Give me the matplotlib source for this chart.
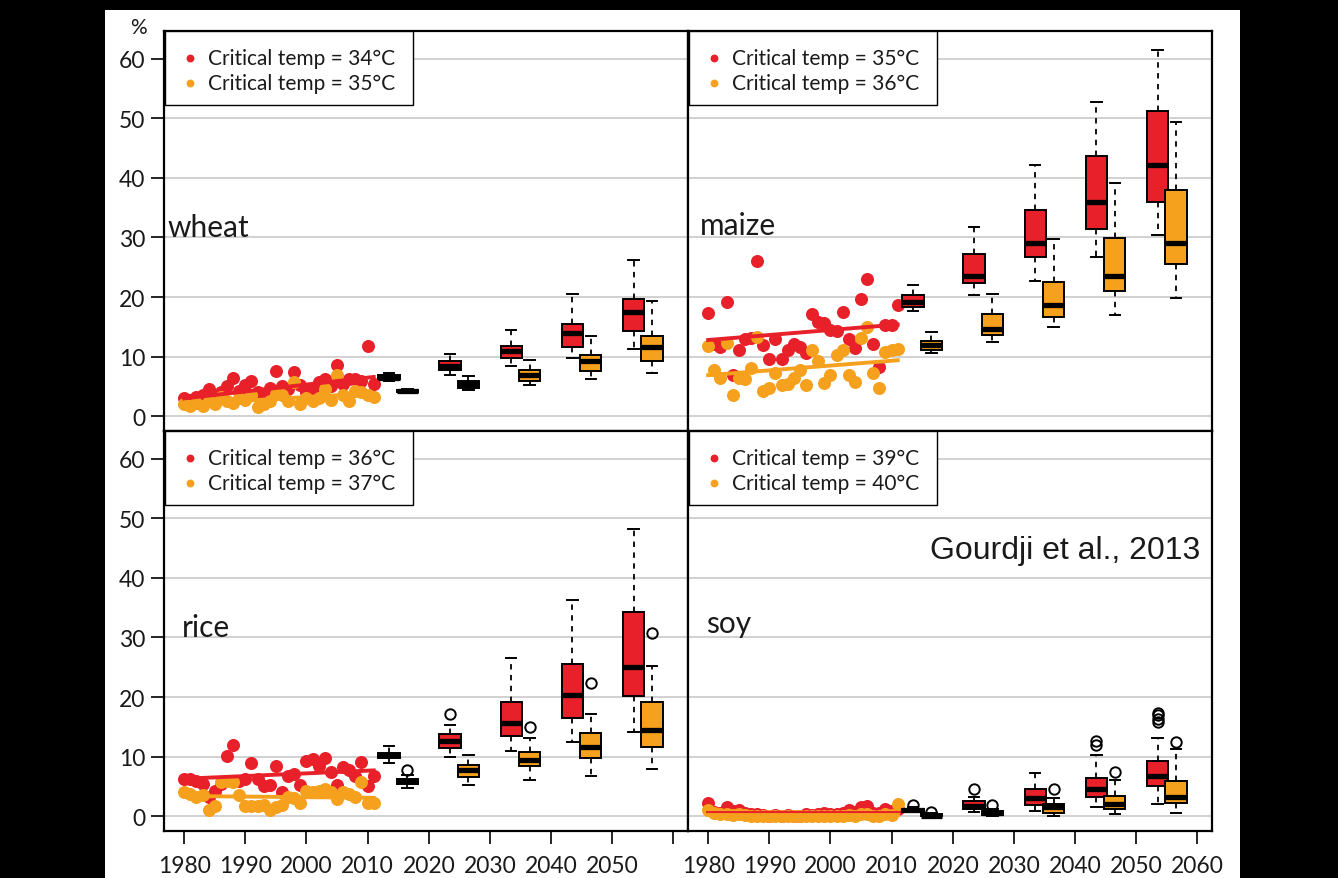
import numpy as np
import matplotlib.pyplot as plt
from matplotlib.patches import Rectangle

plt.rcParams['font.family'] = ['Lato', 'DejaVu Sans']

W, H = 1338, 879

years = np.arange(1980, 2012)
red_pos = [2013.5, 2023.5, 2033.5, 2043.5, 2053.5]
orange_pos = [2016.5, 2026.5, 2036.5, 2046.5, 2056.5]
point_colors = ['#E8202A', '#F6A11E']

# ---- wheat ----
wheat_red = [3.0, 2.8, 3.2, 3.5, 4.5, 3.6, 4.0, 5.0, 6.5, 4.2, 5.3, 6.0, 4.0, 3.5, 4.8, 7.6,
             5.0, 4.5, 7.4, 5.2, 4.0, 4.5, 5.8, 6.3, 5.0, 8.6, 5.5, 6.3, 6.2, 6.0, 11.8, 5.5]
wheat_orange = [2.0, 1.8, 2.2, 1.8, 2.5, 2.0, 3.2, 2.5, 2.2, 3.0, 2.8, 3.6, 1.5, 2.0, 2.5, 3.8,
                3.5, 2.5, 5.8, 2.0, 3.0, 2.5, 3.0, 4.5, 2.8, 7.0, 3.5, 2.5, 4.3, 4.0, 3.5, 3.2]
wheat_trend_red = [3.0, 6.6]
wheat_trend_orange = [2.0, 3.9]
# whisker low, q1, median, q3, whisker high
wheat_red_boxes = [[6.0, 6.3, 6.5, 6.9, 7.3], [6.9, 7.8, 8.5, 9.2, 10.4], [8.5, 9.7, 10.9, 11.85, 14.4],
                   [9.8, 11.6, 14.0, 15.5, 20.6], [11.3, 14.3, 17.5, 19.7, 26.3]]
wheat_orange_boxes = [[4.0, 4.1, 4.2, 4.4, 4.5], [4.4, 4.8, 5.4, 5.9, 6.7], [5.2, 6.0, 7.0, 7.8, 9.5],
                      [6.3, 7.6, 9.2, 10.2, 13.4], [7.3, 9.2, 11.7, 13.4, 19.3]]
wheat_red_fliers = [[], [], [], [], []]
wheat_orange_fliers = [[], [], [], [], []]

# ---- maize ----
maize_red = [17.3, 12.2, 11.7, 19.1, 7.0, 11.2, 13.0, 13.2, 26.0, 11.9, 9.6, 12.9, 9.6, 11.1, 12.2, 11.7,
             10.6, 17.2, 15.8, 15.6, 14.4, 14.3, 17.5, 12.9, 11.4, 19.6, 23.1, 12.2, 8.3, 15.4, 15.4, 18.7]
maize_orange = [11.8, 7.8, 6.5, 12.3, 3.6, 6.4, 6.2, 8.1, 13.3, 4.2, 4.7, 7.3, 5.2, 5.4, 6.5, 7.8,
                5.2, 11.1, 9.3, 5.6, 6.9, 10.3, 11.1, 6.9, 5.8, 13.1, 15.0, 7.2, 4.8, 10.8, 11.1, 11.3]
maize_trend_red = [12.8, 15.4]
maize_trend_orange = [6.9, 9.4]
maize_red_boxes = [[17.7, 18.3, 19.2, 20.4, 22.1], [20.3, 22.3, 23.5, 27.2, 31.7], [22.7, 26.8, 29.1, 34.6, 42.2],
                   [26.7, 31.4, 35.9, 43.7, 52.7], [30.4, 36.0, 42.2, 51.2, 61.5]]
maize_orange_boxes = [[10.7, 11.2, 11.9, 12.6, 14.1], [12.4, 13.6, 14.7, 17.2, 20.6], [15.0, 16.7, 18.7, 22.6, 29.8],
                      [17.0, 21.1, 23.5, 29.9, 39.1], [19.8, 25.5, 29.1, 37.9, 49.4]]
maize_red_fliers = [[], [], [], [], []]
maize_orange_fliers = [[], [], [], [], []]

# ---- rice ----
rice_red = [6.3, 6.3, 6.0, 5.4, 3.2, 4.3, 5.4, 10.1, 12.0, 6.0, 6.3, 8.9, 6.3, 5.0, 5.3, 8.4,
            4.0, 6.8, 7.1, 5.3, 9.3, 9.6, 8.5, 9.7, 7.5, 5.3, 8.2, 7.7, 6.8, 9.1, 5.1, 6.8]
rice_orange = [4.0, 3.7, 3.2, 3.5, 1.0, 1.7, 5.7, 6.0, 5.7, 3.5, 1.7, 1.7, 1.8, 1.9, 1.1, 1.5,
               1.9, 3.2, 3.0, 2.3, 4.3, 4.0, 4.3, 4.6, 4.0, 2.9, 4.0, 3.7, 3.2, 5.7, 2.3, 2.3]
rice_trend_red = [6.3, 7.7]
rice_trend_orange = [3.4, 3.1]
rice_red_boxes = [[8.9, 9.7, 10.2, 10.6, 11.8], [9.9, 11.5, 12.6, 13.8, 15.4], [11.0, 13.5, 15.6, 19.2, 26.5],
                  [12.4, 16.5, 20.3, 25.5, 36.3], [14.1, 20.2, 25.0, 34.3, 48.2]]
rice_orange_boxes = [[4.7, 5.5, 6.0, 6.3, 6.9], [5.3, 6.6, 7.7, 8.6, 10.3], [6.1, 8.5, 9.5, 10.8, 13.1],
                     [6.8, 9.8, 11.7, 14.0, 17.2], [7.9, 11.6, 14.4, 19.1, 25.2]]
rice_red_fliers = [[], [17.2], [], [], []]
rice_orange_fliers = [[7.8], [], [14.9], [22.4], [30.8]]

# ---- soy ----
soy_red = [2.3, 0.8, 0.6, 1.5, 0.9, 1.0, 0.6, 0.3, 0.4, 0.2, 0.1, 0.2, 0.1, 0.2, 0.1, 0.1,
           0.3, 0.2, 0.4, 0.5, 0.4, 0.3, 0.6, 1.0, 0.8, 1.5, 1.7, 0.6, 0.5, 1.2, 0.9, 1.3]
soy_orange = [1.0, 0.5, 0.3, 0.4, 0.2, 0.3, 0.2, 0.1, 0.1, 0.0, 0.0, 0.1, 0.0, 0.0, 0.0, 0.0,
              0.1, 0.0, 0.1, 0.1, 0.1, 0.0, 0.1, 0.2, 0.1, 0.3, 0.4, 0.1, 0.1, 0.3, 0.2, 2.0]
soy_trend_red = [0.5, 0.5]
soy_trend_orange = [0.15, 0.15]
soy_red_boxes = [[0.7, 0.8, 1.1, 1.3, 1.5], [0.8, 1.2, 1.8, 2.5, 3.2], [0.9, 1.9, 3.0, 4.5, 7.3],
                 [1.5, 3.3, 4.6, 6.5, 10.3], [2.1, 5.0, 6.7, 9.3, 13.2]]
soy_orange_boxes = [[0.0, 0.0, 0.1, 0.35, 0.5], [0.1, 0.2, 0.6, 0.9, 1.2], [0.1, 0.6, 1.5, 2.0, 3.0],
                    [0.3, 1.2, 2.1, 3.4, 6.1], [0.5, 2.2, 3.2, 6.0, 11.3]]
soy_red_fliers = [[1.9], [4.5], [], [12.0, 12.7], [15.9, 16.4, 17.0, 17.4]]
soy_orange_fliers = [[0.8], [1.9], [4.5], [7.5], [12.4]]

panels = [
    ('wheat', ['Critical temp = 34°C', 'Critical temp = 35°C'], wheat_red, wheat_orange,
     wheat_trend_red, wheat_trend_orange, wheat_red_boxes, wheat_orange_boxes,
     wheat_red_fliers, wheat_orange_fliers),
    ('maize', ['Critical temp = 35°C', 'Critical temp = 36°C'], maize_red, maize_orange,
     maize_trend_red, maize_trend_orange, maize_red_boxes, maize_orange_boxes,
     maize_red_fliers, maize_orange_fliers),
    ('rice', ['Critical temp = 36°C', 'Critical temp = 37°C'], rice_red, rice_orange,
     rice_trend_red, rice_trend_orange, rice_red_boxes, rice_orange_boxes,
     rice_red_fliers, rice_orange_fliers),
    ('soy', ['Critical temp = 39°C', 'Critical temp = 40°C'], soy_red, soy_orange,
     soy_trend_red, soy_trend_orange, soy_red_boxes, soy_orange_boxes,
     soy_red_fliers, soy_orange_fliers),
]
# crop-name placement (axes fraction)
name_xy = {'wheat': (0.006, 0.51), 'maize': (0.022, 0.515), 'rice': (0.034, 0.51), 'soy': (0.034, 0.52)}

fig = plt.figure(figsize=(W / 100, H / 100), dpi=100, facecolor='black')
fig.patches.append(Rectangle((105 / W, 0), (1240 - 105) / W, 868 / H, transform=fig.transFigure,
                             facecolor='white', edgecolor='none', zorder=-10))

ax_w, ax_h = 524 / W, 400 / H
lefts = [164 / W, 688 / W]
bottoms = [1 - 432 / H, 1 - 832 / H]


def box_stats(rows, fliers):
    return [dict(whislo=r[0], q1=r[1], med=r[2], q3=r[3], whishi=r[4], fliers=f)
            for r, f in zip(rows, fliers)]


for i, (name, keys, r_pts, o_pts, r_tr, o_tr, r_box, o_box, r_fl, o_fl) in enumerate(panels):
    row, col = divmod(i, 2)
    ax = fig.add_axes([lefts[col], bottoms[row], ax_w, ax_h])
    ax.set_xlim(1976.7, 2062.4)
    ax.set_ylim(-2.47, 64.65)
    ax.set_yticks(range(0, 61, 10))
    ax.set_xticks(range(1980, 2061, 10))
    ax.grid(axis='y', color='#c9c9c9', lw=1.2)
    ax.set_axisbelow(True)
    for s in ax.spines.values():
        s.set_linewidth(1.6)

    ax.scatter(years, r_pts, s=88, color=point_colors[0], lw=0, zorder=2)
    ax.scatter(years, o_pts, s=88, color=point_colors[1], lw=0, zorder=2)
    ax.plot([years[0], years[-1]], r_tr, color=point_colors[0], lw=2.8, zorder=3)
    ax.plot([years[0], years[-1]], o_tr, color=point_colors[1], lw=2.8, zorder=3)

    for stats, pos, colr in [(box_stats(r_box, r_fl), red_pos, point_colors[0]),
                             (box_stats(o_box, o_fl), orange_pos, point_colors[1])]:
        ax.bxp(stats, positions=pos, widths=3.5, capwidths=1.7, patch_artist=True, manage_ticks=False,
               boxprops=dict(facecolor=colr, edgecolor='black', lw=1.4),
               medianprops=dict(color='black', lw=3.8, solid_capstyle='butt'),
               whiskerprops=dict(color='black', lw=1.3, linestyle=(0, (3, 3))),
               capprops=dict(color='black', lw=1.4),
               flierprops=dict(marker='o', markerfacecolor='none', markeredgecolor='black',
                               markeredgewidth=1.4, markersize=7.5),
               zorder=4)

    # key box in the upper-left corner
    ax.add_patch(Rectangle((0.002, 0.815), 0.473, 0.185, transform=ax.transAxes, facecolor='white',
                           edgecolor='black', lw=1.0, zorder=5))
    for k, (lab, c) in enumerate(zip(keys, point_colors)):
        yk = 0.9325 - k * 0.0625
        ax.scatter([0.0496], [yk], s=32, color=c, lw=0, transform=ax.transAxes, zorder=6)
        ax.text(0.084, yk, lab, transform=ax.transAxes, ha='left', va='center', fontsize=15,
                color='#1a1a1a', zorder=6)

    nx, ny = name_xy[name]
    ax.text(nx, ny, name, transform=ax.transAxes, ha='left', va='center', fontsize=21.5, color='#1a1a1a')

    ax.tick_params(axis='both', direction='out', length=9.5, width=1.2, labelsize=16.5,
                   labelcolor='#1a1a1a')
    ax.tick_params(axis='y', pad=4)
    ax.tick_params(axis='x', pad=8)
    if col == 1:
        ax.tick_params(axis='y', left=False, labelleft=False)
    if row == 0:
        ax.tick_params(axis='x', bottom=False, labelbottom=False)
    elif col == 0:
        ax.set_xticklabels([str(y) if y < 2060 else '' for y in range(1980, 2061, 10)])

    if name == 'soy':
        ax.text(0.977, 0.7025, 'Gourdji et al., 2013', transform=ax.transAxes, ha='right', va='center',
                fontsize=23, family='Liberation Sans', color='#1a1a1a')

fig.text(138 / W, 1 - 28 / H, '%', ha='center', va='center', fontsize=15, color='#1a1a1a')

fig.savefig('out.png', dpi=100, facecolor='black')
